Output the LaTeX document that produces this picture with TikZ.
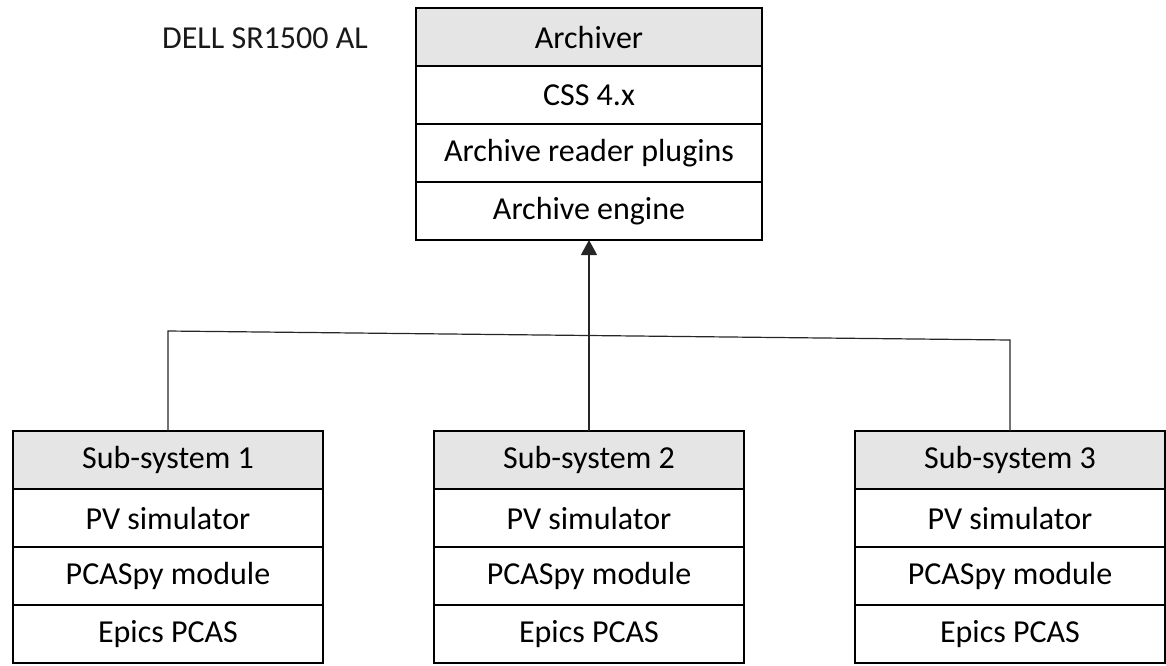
\documentclass[tikz,border=0pt]{standalone}
\usepackage{fontspec}
\setmainfont{Carlito}
\usetikzlibrary{positioning,arrows.meta}

\tikzset{
  cell/.style={draw, line width=1pt, outer sep=0pt, inner sep=0pt,
    minimum width=155pt, minimum height=29pt, fill=white},
  headcell/.style={cell, fill=black!10},
  topcell/.style={cell, minimum width=173pt},
  link/.style={line width=0.6pt, draw=black!85}
}

\begin{document}
\begin{tikzpicture}[x=0.5pt,y=-0.5pt]
\fontsize{16}{19}\selectfont
\useasboundingbox (0,0) rectangle (1166,665);

\node[text=black!90] (host) at (265,38) {DELL SR1500 AL};

% archiver stack
\node[topcell, fill=black!10, anchor=north] (arch) at (589,8) {Archiver};
\node[topcell, below=0pt of arch] (css) {CSS 4.x};
\node[topcell, below=0pt of css] (readers) {Archive reader plugins};
\node[topcell, below=0pt of readers] (engine) {Archive engine};

% sub-systems
\foreach \i/\x in {1/168,2/589,3/1010} {
  \node[headcell, anchor=north] (sub\i) at (\x,431) {Sub-system \i};
  \node[cell, below=0pt of sub\i] (sim\i) {PV simulator};
  \node[cell, below=0pt of sim\i] (pcaspy\i) {PCASpy module};
  \node[cell, below=0pt of pcaspy\i] (pcas\i) {Epics PCAS};
}

% bus
\coordinate (bus1) at (168,331);
\coordinate (bus3) at (1010,340);
\draw[link] (sub1.north) -- (bus1) -- (bus3) -- (sub3.north);
\draw[link, -{Triangle[width=8pt,length=7.5pt]}] (sub2.north) -- (engine.south);
\end{tikzpicture}
\end{document}
